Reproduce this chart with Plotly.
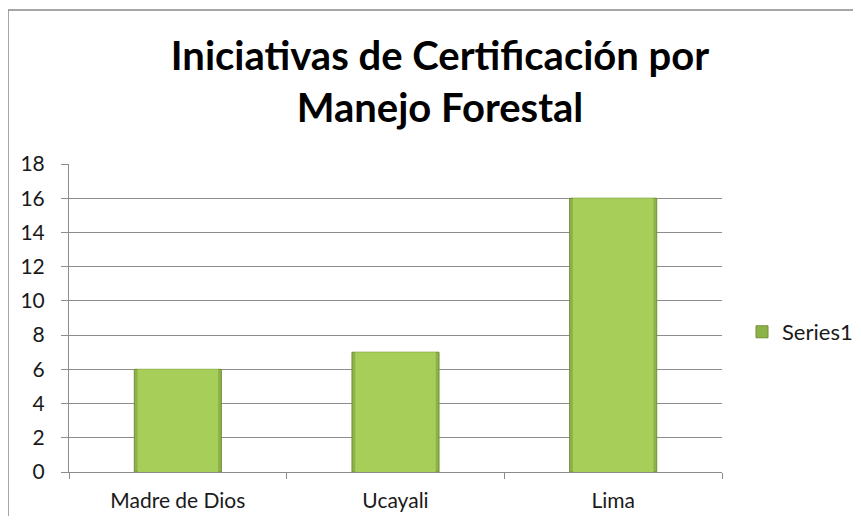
import plotly.graph_objects as go

categories = ["Madre de Dios", "Ucayali", "Lima"]
values = [6, 7, 16]
series_name = "Series1"
title_text = "Iniciativas de Certificación por<br>Manejo Forestal"

# page offset of the plot div (browser body margin)
OFF = 8
W, H = 845, 508
L = 69 - OFF
T = 164 - OFF
R = W - (722 - OFF)
B = H - (472 - OFF)
PW = W - L - R
PH = H - T - B

FONT = "Lato, Open Sans, sans-serif"

fig = go.Figure()
# darker rim of the bevelled bars
fig.add_trace(go.Bar(
    x=categories, y=values, name=series_name,
    marker=dict(color="#8DB248", line=dict(color="#728F36", width=1)),
    width=0.4, showlegend=True,
))
# lighter face of the bars
fig.add_trace(go.Bar(
    x=categories, y=values, name=series_name,
    marker=dict(color="#A6CE58", line=dict(width=0)),
    width=0.37, showlegend=False, hoverinfo="skip",
))

fig.update_layout(
    width=W, height=H,
    margin=dict(l=L, r=R, t=T, b=B, autoexpand=False),
    paper_bgcolor="white", plot_bgcolor="white",
    barmode="overlay",
    font=dict(family=FONT, size=21, color="#1a1a1a"),
    title=dict(text=title_text, x=(440 - OFF) / W, xref="container", xanchor="center",
               y=1 - (70 - OFF) / H, yanchor="middle",
               font=dict(family=FONT, size=40, color="black", weight="bold")),
    showlegend=True,
    legend=dict(x=(734 - L) / PW, y=(H - B - (332 - OFF)) / PH,
                xanchor="left", yanchor="middle",
                font=dict(size=22), bgcolor="rgba(0,0,0,0)",
                itemwidth=30),
)
fig.update_yaxes(range=[0, 18], dtick=2, showgrid=True, gridcolor="#8C8C8C", gridwidth=1,
                 showline=True, linecolor="#8C8C8C", ticks="outside", ticklen=7,
                 tickcolor="#8C8C8C", zeroline=False, fixedrange=True,
                 ticklabelstandoff=12, automargin=False)
fig.update_xaxes(showline=True, linecolor="#8C8C8C", ticks="outside", ticklen=6,
                 tickcolor="#8C8C8C", tickson="boundaries", showgrid=False,
                 ticklabelstandoff=10, automargin=False)

# outer chart frame (top and left edges visible)
fx = (8 - OFF - L) / PW
fy = (H - B - (10 - OFF)) / PH
fig.add_shape(type="line", xref="paper", yref="paper",
              x0=fx, x1=(W + 10 - L) / PW, y0=fy, y1=fy,
              line=dict(color="#888888", width=1.5))
fig.add_shape(type="line", xref="paper", yref="paper",
              x0=fx, x1=fx, y0=fy, y1=(H - B - H - 10) / PH,
              line=dict(color="#888888", width=1.5))

fig.write_html("out.html")
